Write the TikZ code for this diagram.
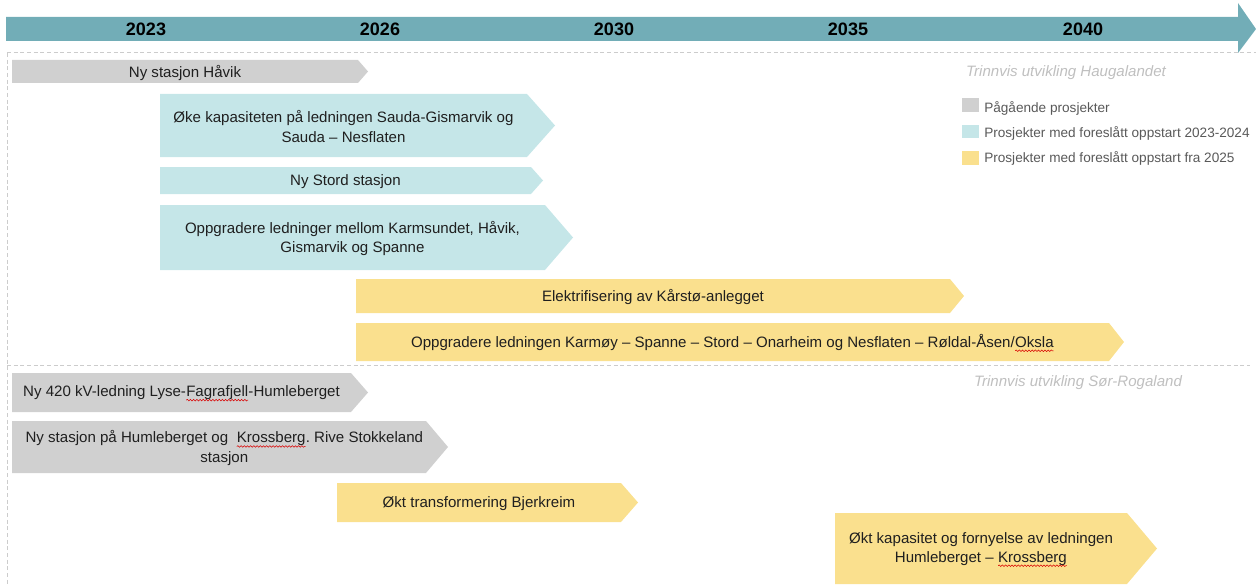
\documentclass[tikz,border=0pt]{standalone}
\usepackage{fontspec}
\setmainfont{Liberation Sans}
\frenchspacing
\usetikzlibrary{decorations.pathmorphing}
\definecolor{band}{HTML}{72ADB7}
\definecolor{cgray}{HTML}{D0D0D0}
\definecolor{cblue}{HTML}{C5E6E8}
\definecolor{cyel}{HTML}{FAE08E}
\definecolor{dashc}{HTML}{CCCCCC}
\definecolor{legtxt}{HTML}{595959}
\definecolor{subt}{HTML}{BFBFBF}
\tikzset{
  bartext/.style={align=center, inner sep=0pt, text=black!88,
    font=\fontsize{11.3}{14.3}\selectfont},
  yearlbl/.style={inner sep=0pt, font=\bfseries\fontsize{13.5}{16}\selectfont},
  legtext/.style={anchor=west, inner sep=0pt, text=legtxt,
    font=\fontsize{10.2}{12}\selectfont},
  subtitle/.style={inner sep=0pt, text=subt,
    font=\itshape\fontsize{11.3}{13}\selectfont},
  sepline/.style={dashc, line width=0.75pt, dash pattern=on 3pt off 2pt},
  squig/.style={red!85!black, line width=0.4pt,
    decorate, decoration={snake, amplitude=0.6pt, segment length=2.4pt}}
}
\newcommand\sq[1]{\tikz[baseline=(sqw.base)]{\node[inner sep=0pt,outer sep=0pt,anchor=base] (sqw) {#1};
  \draw[squig] ([yshift=-2.6pt]sqw.base west) -- ([yshift=-2.6pt]sqw.base east);}}
\newcommand\chev[8]{%
  \fill[#2] (#3,#6) -- (#4,#6) -- (#5,{(#6+#7)/2}) -- (#4,#7) -- (#3,#7) -- cycle;
  \node[bartext] (#1) at ({(#3+#4)/2},{(#6+#7)/2+1}) {#8};
}
\begin{document}
\begin{tikzpicture}[x=0.75pt,y=-0.75pt]
\useasboundingbox (0,0) rectangle (1256,585);
% dashed frame lines
\draw[sepline] (7,53) -- (1256,53);
\draw[sepline] (7,53) -- (7,585);
\draw[sepline] (7,365) -- (1250,365);
% timeline arrow
\fill[band] (6,17) -- (1238,17) -- (1238,3) -- (1256,29) -- (1238,53) -- (1238,41) -- (6,41) -- cycle;
\node[yearlbl] (y2023) at (146,29) {2023};
\node[yearlbl] (y2026) at (380,29) {2026};
\node[yearlbl] (y2030) at (614,29) {2030};
\node[yearlbl] (y2035) at (848,29) {2035};
\node[yearlbl] (y2040) at (1083,29) {2040};
% Haugalandet
\chev{b1}{cgray}{12}{358}{368}{60}{83}{Ny stasjon Håvik}
\chev{b2}{cblue}{160}{527}{555}{94}{157}{Øke kapasiteten på ledningen Sauda-Gismarvik og\\Sauda – Nesflaten}
\chev{b3}{cblue}{160}{531}{543}{167}{194}{Ny Stord stasjon}
\chev{b4}{cblue}{160}{545}{573}{205}{270}{Oppgradere ledninger mellom Karmsundet, Håvik,\\Gismarvik og Spanne}
\chev{b5}{cyel}{356}{950}{964}{279}{313}{Elektrifisering av Kårstø-anlegget}
\chev{b6}{cyel}{356}{1109}{1124}{323}{361}{Oppgradere ledningen Karmøy – Spanne – Stord – Onarheim og Nesflaten – Røldal-Åsen/\sq{Oksla}}
% Sør-Rogaland
\chev{c1}{cgray}{12}{351}{368}{373}{412}{Ny 420 kV-ledning Lyse-\sq{Fagrafjell}-Humleberget}
\chev{c2}{cgray}{12}{426}{448}{421}{473}{\hspace*{8pt}Ny stasjon på Humleberget og\ \ \sq{Krossberg}. Rive Stokkeland\\\hspace*{8pt}stasjon}
\chev{c3}{cyel}{337}{621}{638}{483}{522}{Økt transformering Bjerkreim}
\chev{c4}{cyel}{835}{1127}{1157}{513}{584}{Økt kapasitet og fornyelse av ledningen\\Humleberget – \sq{Krossberg}}
% subtitles
\node[subtitle] (s1) at (1066,73) {Trinnvis utvikling Haugalandet};
\node[subtitle] (s2) at (1078,383) {Trinnvis utvikling Sør-Rogaland};
% legend
\fill[cgray] (962,98) rectangle (979,112);
\fill[cblue] (962,125) rectangle (979,138);
\fill[cyel] (962,151) rectangle (979,165);
\node[legtext] (l1) at (984,108) {Pågående prosjekter};
\node[legtext] (l2) at (984,133) {Prosjekter med foreslått oppstart 2023-2024};
\node[legtext] (l3) at (984,158) {Prosjekter med foreslått oppstart fra 2025};
\end{tikzpicture}
\end{document}
